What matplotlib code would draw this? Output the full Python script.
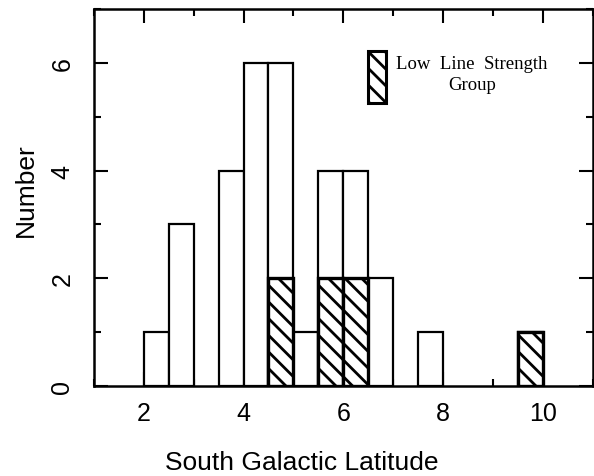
import matplotlib
matplotlib.use("Agg")
import matplotlib.pyplot as plt
from matplotlib.patches import Rectangle
from matplotlib.ticker import MultipleLocator

# Data
bin_left = [2.0, 2.5, 3.0, 3.5, 4.0, 4.5, 5.0, 5.5, 6.0, 6.5, 7.0, 7.5, 8.0, 8.5, 9.0, 9.5]
total_counts = [1, 3, 0, 4, 6, 6, 1, 4, 4, 2, 0, 1, 0, 0, 0, 1]
low_counts = [0, 0, 0, 0, 0, 2, 0, 2, 2, 0, 0, 0, 0, 0, 0, 1]
bin_width = 0.5
xlabel = "South Galactic Latitude"
ylabel = "Number"
legend_text = "Low  Line  Strength\nGroup"

plt.rcParams['hatch.linewidth'] = 2.0
fig = plt.figure(figsize=(5.94, 4.77), dpi=100)
ax = fig.add_axes([0.158, 0.189, 0.84, 0.79])

sans = ['Liberation Sans', 'DejaVu Sans']
hatch = '\\\\'

for x, h in zip(bin_left, total_counts):
    if h > 0:
        ax.bar(x, h, width=bin_width, align='edge', facecolor='white',
               edgecolor='black', linewidth=1.6, zorder=2)
for x, h in zip(bin_left, low_counts):
    if h > 0:
        ax.bar(x, h, width=bin_width, align='edge', facecolor='white',
               edgecolor='black', linewidth=2.4, hatch=hatch, zorder=3)

# legend box
ax.add_patch(Rectangle((6.50, 5.25), 0.36, 0.97, facecolor='white',
                       edgecolor='black', linewidth=2.2, hatch=hatch, zorder=3))
ax.text(8.58, 6.15, legend_text, ha='center', va='top', multialignment='center',
        fontsize=13.5, family=['Liberation Serif', 'DejaVu Serif'], linespacing=1.3)

ax.set_xlim(1, 11)
ax.set_ylim(0, 7)
ax.xaxis.set_major_locator(MultipleLocator(2))
ax.xaxis.set_minor_locator(MultipleLocator(1))
ax.yaxis.set_major_locator(MultipleLocator(2))
ax.yaxis.set_minor_locator(MultipleLocator(1))
ax.tick_params(which='both', direction='in', top=True, right=True, width=1.5)
ax.tick_params(which='major', length=10)
ax.tick_params(which='minor', length=5)
ax.tick_params(axis='x', which='major', pad=11, labelsize=18)
ax.tick_params(axis='y', which='major', pad=14, labelsize=18)
for lab in ax.get_xticklabels() + ax.get_yticklabels():
    lab.set_family(sans)
for lab in ax.get_yticklabels():
    lab.set_rotation(90)
    lab.set_va('center')

for s in ax.spines.values():
    s.set_linewidth(1.8)

ax.set_xlabel(xlabel, fontsize=19, family=sans)
ax.xaxis.set_label_coords(0.417, -0.17)
ax.set_ylabel(ylabel, fontsize=19, family=sans)
ax.yaxis.set_label_coords(-0.112, 0.522)

fig.savefig("out.png", dpi=100)
